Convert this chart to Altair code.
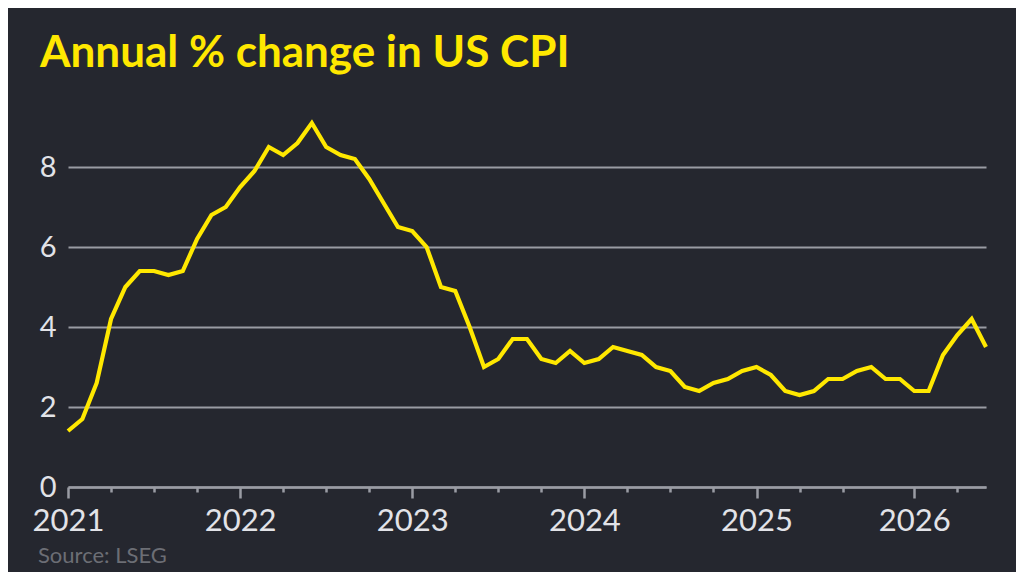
import altair as alt
import pandas as pd

# Monthly observations (October 2025 was not published, so it is absent)
months = (
    [f"2021-{m:02d}" for m in range(1, 13)]
    + [f"2022-{m:02d}" for m in range(1, 13)]
    + [f"2023-{m:02d}" for m in range(1, 13)]
    + [f"2024-{m:02d}" for m in range(1, 13)]
    + [f"2025-{m:02d}" for m in range(1, 10)]
    + ["2025-11", "2025-12"]
    + [f"2026-{m:02d}" for m in range(1, 7)]
)
cpi_2021 = [1.4, 1.7, 2.6, 4.2, 5.0, 5.4, 5.4, 5.3, 5.4, 6.2, 6.8, 7.0]
cpi_2022 = [7.5, 7.9, 8.5, 8.3, 8.6, 9.1, 8.5, 8.3, 8.2, 7.7, 7.1, 6.5]
cpi_2023 = [6.4, 6.0, 5.0, 4.9, 4.0, 3.0, 3.2, 3.7, 3.7, 3.2, 3.1, 3.4]
cpi_2024 = [3.1, 3.2, 3.5, 3.4, 3.3, 3.0, 2.9, 2.5, 2.4, 2.6, 2.7, 2.9]
cpi_2025 = [3.0, 2.8, 2.4, 2.3, 2.4, 2.7, 2.7, 2.9, 3.0, 2.7, 2.7]
cpi_2026 = [2.4, 2.4, 3.3, 3.8, 4.2, 3.5]
cpi = cpi_2021 + cpi_2022 + cpi_2023 + cpi_2024 + cpi_2025 + cpi_2026

y_ticks = [0, 2, 4, 6, 8]
title_text = "Annual % change in US CPI"
source_text = "Source: LSEG"

df = pd.DataFrame({"month": months, "cpi": cpi, "i": list(range(len(months)))})

year_idx = [i for i, m in enumerate(months) if m.endswith("-01")]
quarter_idx = [i for i, m in enumerate(months) if m[5:] in ("01", "04", "07", "10")]
label_map = "{" + ",".join(f"'{i}':'{months[i][:4]}'" for i in year_idx) + "}"
year_test = "indexof([" + ",".join(str(i) for i in year_idx) + "], datum.value) >= 0"

BG = "#25272f"
YELLOW = "#ffe800"
GRID = "#9a9ca4"
LABEL = "#e2e3e8"
FONT = "Lato"

W, H = 918, 380

line = alt.Chart(df).mark_line(color=YELLOW, strokeWidth=4.2, strokeJoin="miter").encode(
    x=alt.X(
        "i:Q",
        scale=alt.Scale(domain=[0, len(months) - 1], nice=False, zero=False),
        axis=alt.Axis(
            title=None,
            values=quarter_idx,
            labelExpr=f"{label_map}[''+datum.value] || ''",
            grid=False,
            domainColor=GRID,
            domainWidth=2.5,
            tickColor=GRID,
            tickWidth=2.5,
            tickSize={"condition": {"test": year_test, "value": 11}, "value": 5},
            labelFont=FONT,
            labelFontSize=31,
            labelColor=LABEL,
            labelPadding=8,
            labelOverlap=False,
            labelFlush=False,
            labelBound=False,
        ),
    ),
    y=alt.Y(
        "cpi:Q",
        scale=alt.Scale(domain=[0, 9.5], nice=False),
        axis=alt.Axis(
            title=None,
            values=y_ticks,
            domain=False,
            ticks=False,
            grid=True,
            gridColor=GRID,
            gridWidth=2,
            labelFont=FONT,
            labelFontSize=29,
            labelColor=LABEL,
            labelPadding=12,
        ),
    ),
)

title = alt.Chart(pd.DataFrame({"t": [title_text]})).mark_text(
    align="left", baseline="alphabetic", font=FONT, fontSize=44, fontWeight="bold", color=YELLOW
).encode(x=alt.value(-28), y=alt.value(-40), text="t:N")

source = alt.Chart(pd.DataFrame({"t": [source_text]})).mark_text(
    align="left", baseline="alphabetic", font=FONT, fontSize=22, color="#6c6e75"
).encode(x=alt.value(-30), y=alt.value(456), text="t:N")

chart = (
    alt.layer(line, title, source)
    .properties(
        width=W,
        height=H,
        padding={"left": 60, "top": 99, "right": 30, "bottom": 85},
        autosize=alt.AutoSizeParams(type="none"),
        background=BG,
    )
    .configure_view(stroke=None)
)

chart.save("out.html", embed_options={"renderer": "svg", "actions": False})
